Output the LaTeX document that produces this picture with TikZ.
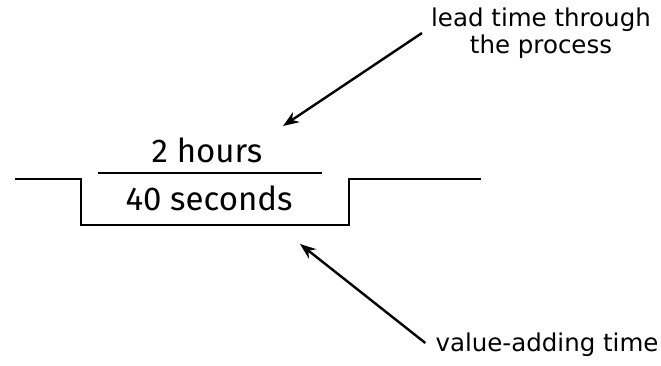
\documentclass[tikz,border=0pt]{standalone}
\usepackage{fontspec}
\setmainfont{DejaVu Sans}
\newfontfamily\handfont{Fira Sans}
\usetikzlibrary{arrows.meta}
\begin{document}
\begin{tikzpicture}[x=1pt,y=-1pt,
  flow/.style={line width=2.4pt,line join=miter},
  sep/.style={line width=2.2pt},
  label/.style={inner sep=0pt,font=\fontsize{24.5}{27}\selectfont,align=center},
  amount/.style={inner sep=0pt,font=\handfont\fontsize{33}{35}\selectfont},
  pointer/.style={line width=2.4pt,-{Stealth[length=16pt,width=12pt]}}]
\useasboundingbox (0,0) rectangle (661,366);
% process line
\coordinate (l0) at (15,179);
\coordinate (l1) at (81,179);
\coordinate (b0) at (81,225);
\coordinate (b1) at (349,225);
\coordinate (r1) at (349,179);
\coordinate (r0) at (481,179);
\draw[flow] (l0) -- (l1) -- (b0) -- (b1) -- (r1) -- (r0);
% separator
\coordinate (s0) at (98,173);
\coordinate (s1) at (322,173);
\draw[sep] (s0) -- (s1);
% amounts
\node[amount] (hours) at (207,150) {2 hours};
\node[amount] (secs) at (209,198) {40 seconds};
% labels
\node[label] (lead) at (541,33) {lead time through\\the process};
\node[label] (vat) at (547,345) {value-adding time};
% arrows
\coordinate (t1) at (283,126);
\coordinate (t2) at (300,244);
\draw[pointer] (lead.west) ++(-9,0) -- (t1);
\draw[pointer] (vat.west) ++(-10,-2) -- (t2);
\end{tikzpicture}
\end{document}
